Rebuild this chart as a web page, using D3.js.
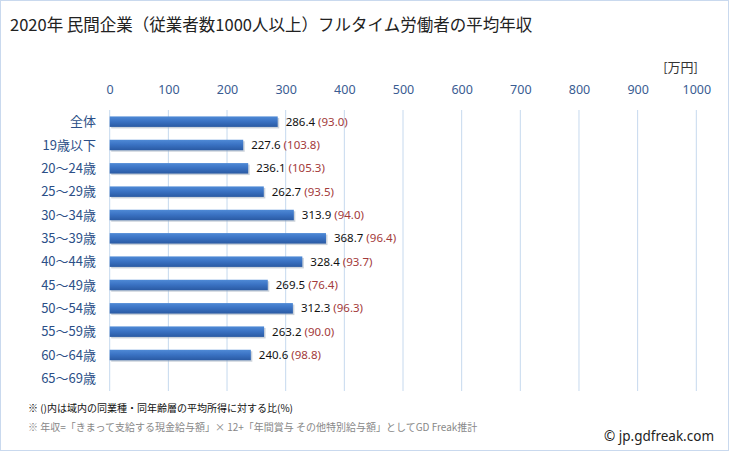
<!DOCTYPE html>
<html><head><meta charset="utf-8">
<script src="https://cdn.jsdelivr.net/npm/d3@7"></script>
<style>
html,body{margin:0;padding:0;background:#fff;}
svg{display:block;font-family:"Noto Sans CJK JP","Noto Sans",sans-serif;}
</style></head>
<body>
<svg id="chart" width="729" height="451"></svg>
<script>
const categories = ["全体","19歳以下","20～24歳","25～29歳","30～34歳","35～39歳","40～44歳","45～49歳","50～54歳","55～59歳","60～64歳","65～69歳"];
const incomes = [286.4,227.6,236.1,262.7,313.9,368.7,328.4,269.5,312.3,263.2,240.6,null];
const ratios = ["93.0","103.8","105.3","93.5","94.0","96.4","93.7","76.4","96.3","90.0","98.8",null];
const xTicks = [0,100,200,300,400,500,600,700,800,900,1000];

const svg = d3.select("#chart");
const W = 729, H = 451;
svg.append("rect").attr("x",0.5).attr("y",0.5).attr("width",W-1).attr("height",H-1)
  .attr("fill","#fff").attr("stroke","#c9d9ee");

const x = d3.scaleLinear().domain([0,1000]).range([109.7,696.3]);
const y = d3.scaleBand().domain(categories).range([110,390]).paddingInner(0.55).paddingOuter(0.275);

const defs = svg.append("defs");
const g = defs.append("linearGradient").attr("id","barGrad").attr("x1",0).attr("y1",0).attr("x2",0).attr("y2",1);
g.append("stop").attr("offset","0%").attr("stop-color","#4f8ad6");
g.append("stop").attr("offset","45%").attr("stop-color","#3b73c4");
g.append("stop").attr("offset","100%").attr("stop-color","#2a5aa3");

// title
svg.append("text").attr("x",10).attr("y",31).attr("font-size",16.5).attr("fill","#222")
  .text("2020年 民間企業（従業者数1000人以上）フルタイム労働者の平均年収");
svg.append("text").attr("x",698).attr("y",72).attr("text-anchor","end").attr("font-size",13).attr("fill","#333").text("[万円]");

// gridlines
svg.append("g").selectAll("line").data(xTicks).join("line")
  .attr("x1",d=>x(d)).attr("x2",d=>x(d)).attr("y1",110).attr("y2",391)
  .attr("stroke","#c6d9ee").attr("stroke-width",1);

// top axis labels
const axis = svg.append("g").attr("transform","translate(0,94)")
  .call(d3.axisTop(x).tickValues(xTicks).tickFormat(d3.format("d")).tickSize(0).tickPadding(0));
axis.select(".domain").remove();
axis.selectAll("text").attr("font-size",12.5).attr("fill","#3a5c92").attr("font-family","'Liberation Sans Narrow','Noto Sans',sans-serif");

// category labels
svg.append("g").selectAll("text").data(categories).join("text")
  .attr("x",96).attr("y",d=>y(d)+y.bandwidth()/2).attr("dy","0.36em")
  .attr("text-anchor","end").attr("font-size",13).attr("fill","#2c4f87").text(d=>d);

const data = categories.map((c,i)=>({c, v:incomes[i], r:ratios[i]})).filter(d=>d.v!=null);

// shadow
svg.append("g").selectAll("rect").data(data).join("rect")
  .attr("x",x(0)+1.5).attr("y",d=>y(d.c)+1.5).attr("width",d=>x(d.v)-x(0)).attr("height",y.bandwidth())
  .attr("fill","#9aa7b8").attr("opacity",0.5);
// bars
svg.append("g").selectAll("rect").data(data).join("rect")
  .attr("x",x(0)).attr("y",d=>y(d.c)).attr("width",d=>x(d.v)-x(0)).attr("height",y.bandwidth())
  .attr("fill","url(#barGrad)");

// value labels
const lbl = svg.append("g").selectAll("text").data(data).join("text")
  .attr("x",d=>x(d.v)+8).attr("y",d=>y(d.c)+y.bandwidth()/2).attr("dy","0.36em")
  .attr("font-size",11.5).attr("font-family","'Noto Sans',sans-serif");
lbl.append("tspan").attr("fill","#111").text(d=>d.v.toFixed(1));
lbl.append("tspan").attr("fill","#a33a3a").text(d=>" ("+d.r+")");

// notes
svg.append("text").attr("x",28).attr("y",412).attr("font-size",10).attr("fill","#111")
  .text("※ ()内は域内の同業種・同年齢層の平均所得に対する比(%)");
svg.append("text").attr("x",28).attr("y",431).attr("font-size",10).attr("fill","#888")
  .text("※ 年収=「きまって支給する現金給与額」× 12+「年間賞与 その他特別給与額」としてGD Freak推計");
svg.append("text").attr("x",714).attr("y",441).attr("text-anchor","end").attr("font-size",13.5).attr("fill","#222")
  .attr("font-family","'Noto Sans',sans-serif").text("© jp.gdfreak.com");
</script>
</body></html>
